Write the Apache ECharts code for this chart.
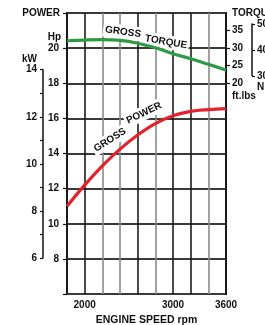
<!DOCTYPE html>
<html>
<head>
<meta charset="utf-8">
<script src="https://cdn.jsdelivr.net/npm/echarts/dist/echarts.min.js"></script>
<style>
html, body { margin: 0; padding: 0; background: #fff; }
#chart { width: 265px; height: 325px; }
</style>
</head>
<body>
<div id="chart"></div>
<script>
// engine speed (rpm) and the two curves
var rpm = [1800, 2000, 2200, 2400, 2600, 2800, 3000, 3200, 3400, 3600]
var powerHp = [11.0, 12.2, 13.3, 14.25, 15.05, 15.7, 16.15, 16.4, 16.5, 16.55]
var torqueFtLbs = [32.1, 32.3, 32.4, 32.2, 31.4, 30.1, 28.4, 27.0, 25.4, 23.8]

// tick labels shown on each axis
var rpmLabels = [2000, 3000, 3600]
var hpLabels = [8, 10, 12, 14, 16, 18, 20]
var kwLabels = [6, 8, 10, 12, 14]
var ftLbsLabels = [20, 25, 30, 35]
var nmLabels = [30, 40, 50]

var FONT = "'Liberation Sans', Arial, Helvetica, sans-serif"
var INK = '#111'
var DARK = '#1c1c1c', GRAY = '#8a8a8a'

// hp <-> pixel mapping of the main grid (top 13, bottom 294, 6..22 hp)
var gTop = 13, gBottom = 325 - 294
var pxPerHp = (325 - gTop - gBottom) / 16
function hpToY(hp) { return gTop + (22 - hp) * pxPerHp }
// torque: 30 ft.lbs sits on 20 hp, 10 ft.lbs per 2 hp
function ftToHp(ft) { return 20 + (ft - 30) / 5 }

function only(list) {
  return function (v) { return list.indexOf(v) >= 0 ? String(v) : '' }
}
function gfont(size) {
  return { fill: INK, font: 'bold ' + size + 'px ' + FONT }
}
function pairs(ys) {
  return rpm.map(function (r, i) { return [r, ys[i]] })
}
function caption(text, x, y, rot) {
  return {
    type: 'text', z: 1, x: x, y: y, rotation: rot,
    style: Object.assign({ text: text, align: 'center', verticalAlign: 'middle', backgroundColor: '#fff', padding: [2, 2] }, gfont(10))
  }
}
function plain(text, x, y, align) {
  return { type: 'text', z: 1, x: x, y: y, style: Object.assign({ text: text, align: align, verticalAlign: 'middle' }, gfont(10)) }
}

var labelStyle = { color: INK, fontFamily: FONT, fontWeight: 'bold', fontSize: 10 }

var chart = echarts.init(document.getElementById('chart'), null, { renderer: 'canvas' })

var option = {
  animation: false,
  grid: [
    { left: 67, right: 39, top: gTop, bottom: gBottom, show: true, borderColor: INK, borderWidth: 2, outerBoundsMode: 'none' },
    { left: 67, right: 39, top: hpToY(ftToHp(35)), bottom: 325 - hpToY(ftToHp(20)), outerBoundsMode: 'none' },
    { left: 67, right: 13, top: hpToY(ftToHp(50 / 1.3558)), bottom: 325 - hpToY(ftToHp(30 / 1.3558)), outerBoundsMode: 'none' },
    { left: 43, right: 39, top: hpToY(14 / 0.7457), bottom: 325 - hpToY(6 / 0.7457), outerBoundsMode: 'none' }
  ],
  xAxis: [
    {
      gridIndex: 0, type: 'value', min: 1800, max: 3600, interval: 200,
      name: 'ENGINE SPEED rpm', nameLocation: 'middle', nameGap: 21,
      nameTextStyle: { color: INK, fontFamily: FONT, fontWeight: 'bold', fontSize: 10.5 },
      axisLine: { show: false },
      axisTick: { show: false },
      axisLabel: Object.assign({ margin: 6, formatter: only(rpmLabels) }, labelStyle),
      splitLine: { show: true, lineStyle: { width: 1.6, color: [DARK, DARK, GRAY, GRAY, DARK, GRAY, DARK, DARK, GRAY, DARK] } }
    },
    { gridIndex: 1, type: 'value', min: 1800, max: 3600, show: false },
    { gridIndex: 2, type: 'value', min: 1800, max: 3600, show: false },
    { gridIndex: 3, type: 'value', min: 1800, max: 3600, show: false }
  ],
  yAxis: [
    {
      // Hp
      gridIndex: 0, type: 'value', position: 'left', min: 6, max: 22, interval: 2,
      axisLine: { show: false },
      axisTick: { show: true, length: 4, lineStyle: { color: INK, width: 1.2 } },
      axisLabel: Object.assign({ margin: 8, formatter: only(hpLabels) }, labelStyle),
      splitLine: { show: true, lineStyle: { width: 2, color: '#3a3a3a' } }
    },
    {
      // ft.lbs
      gridIndex: 1, type: 'value', position: 'right', min: 20, max: 35, interval: 5,
      axisLine: { show: false },
      axisTick: { show: true, length: 4, lineStyle: { color: INK, width: 1.2 } },
      axisLabel: Object.assign({ margin: 6, formatter: only(ftLbsLabels) }, labelStyle),
      splitLine: { show: false }
    },
    {
      // N.m
      gridIndex: 2, type: 'value', position: 'right', min: 30, max: 50, interval: 10,
      axisLine: { show: true, lineStyle: { color: INK, width: 1.5 } },
      axisTick: { show: true, length: 3, lineStyle: { color: INK, width: 1.2 } },
      axisLabel: Object.assign({ margin: 5, formatter: only(nmLabels) }, labelStyle),
      splitLine: { show: false }
    },
    {
      // kW
      gridIndex: 3, type: 'value', position: 'left', min: 6, max: 14, interval: 1,
      axisLine: { show: true, lineStyle: { color: INK, width: 1.5 } },
      axisTick: { show: true, length: 3, lineStyle: { color: INK, width: 1.2 } },
      axisLabel: Object.assign({ margin: 6, formatter: only(kwLabels) }, labelStyle),
      splitLine: { show: false }
    }
  ],
  graphic: [
    plain('POWER', 60, 13, 'right'),
    plain('Hp', 61, 37, 'right'),
    plain('kW', 37, 59, 'right'),
    plain('TORQUE', 232, 13, 'left'),
    plain('ft.lbs', 232, 96, 'left'),
    plain('N', 257, 87, 'left'),
    // curve captions on white boxes
    caption('GROSS', 123, 32, -0.14),
    caption('TORQUE', 166, 42, -0.17),
    caption('GROSS', 110, 140, 0.56),
    caption('POWER', 144, 113, 0.45)
  ],
  series: [
    {
      name: 'GROSS POWER', type: 'line', xAxisIndex: 0, yAxisIndex: 0,
      data: pairs(powerHp), smooth: 0.4, symbol: 'none', z: 5,
      lineStyle: { color: '#e2232d', width: 3.2 }
    },
    {
      name: 'GROSS TORQUE', type: 'line', xAxisIndex: 1, yAxisIndex: 1,
      data: pairs(torqueFtLbs), smooth: 0.4, symbol: 'none', z: 5,
      lineStyle: { color: '#2f9a45', width: 3.2 }
    }
  ]
}

chart.setOption(option)
</script>
</body>
</html>
